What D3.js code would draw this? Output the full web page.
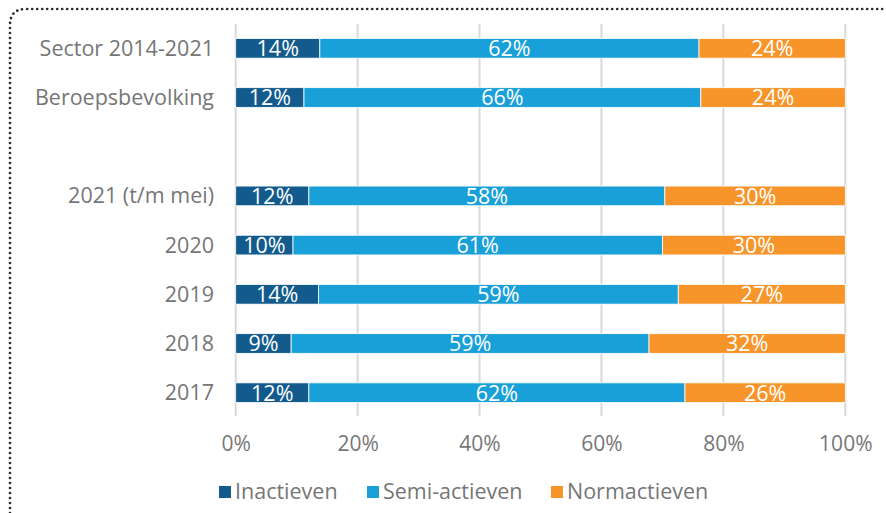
<!DOCTYPE html>
<html>
<head>
<meta charset="utf-8">
<script src="https://cdn.jsdelivr.net/npm/d3@7"></script>
<style>
  html, body { margin: 0; padding: 0; background: #fff; }
  svg { display: block; }
  text { font-family: "Open Sans", "Noto Sans", sans-serif; }
</style>
</head>
<body>
<svg id="chart" width="886" height="513"></svg>
<script>
// ---- data ----
const categories = ["Sector 2014-2021", "Beroepsbevolking", "", "2021 (t/m mei)", "2020", "2019", "2018", "2017"];
const seriesNames = ["Inactieven", "Semi-actieven", "Normactieven"];
const inactieven   = [13.8, 11.2, null, 12.0,  9.4, 13.6,  9.1, 12.0];
const semiActieven = [62.2, 65.1, null, 58.4, 60.6, 59.0, 58.7, 61.7];
const normactieven = [24.0, 23.7, null, 29.6, 30.0, 27.4, 32.2, 26.3];
const inactievenLabels   = ["14%", "12%", null, "12%", "10%", "14%", "9%", "12%"];
const semiActievenLabels = ["62%", "66%", null, "58%", "61%", "59%", "59%", "62%"];
const normactievenLabels = ["24%", "24%", null, "30%", "30%", "27%", "32%", "26%"];
const tickValues = [0, 20, 40, 60, 80, 100];
const colors = ["#135b8d", "#1aa0d9", "#f7952a"];

// ---- build table ----
const keys = categories.map((c, i) => c === "" ? "__gap" + i : c);
const rows = keys.map((k, i) => ({
  key: k, label: categories[i],
  values: [inactieven[i], semiActieven[i], normactieven[i]],
  labels: [inactievenLabels[i], semiActievenLabels[i], normactievenLabels[i]]
}));

const svg = d3.select("#chart");
const W = 886, H = 513;
const FS = 21.5;

// dotted frame
const frame = d3.path();
frame.moveTo(10, H + 5);
frame.lineTo(10, 25);
frame.quadraticCurveTo(10, 9, 26, 9);
frame.lineTo(W + 5, 9);
svg.append("path")
  .attr("d", frame.toString())
  .attr("fill", "none")
  .attr("stroke", "#2a2a2a")
  .attr("stroke-width", 2.7)
  .attr("stroke-linecap", "round")
  .attr("stroke-dasharray", "0 5");

const x = d3.scaleLinear().domain([0, 100]).range([235.7, 845.3]);
const y = d3.scaleBand().domain(keys).range([23.7, 417.3]).paddingInner(0.6).paddingOuter(0.3);

// gridlines
svg.append("g").selectAll("line").data(tickValues).join("line")
  .attr("x1", d => x(d)).attr("x2", d => x(d))
  .attr("y1", 24).attr("y2", 416)
  .attr("stroke", "#d9d9d9").attr("stroke-width", 2);

// x axis tick labels
const xAxis = d3.axisBottom(x).tickValues(tickValues).tickFormat(d => d + "%").tickSize(0).tickPadding(0);
const gx = svg.append("g").attr("transform", "translate(0,436)").call(xAxis);
gx.select(".domain").remove();
gx.selectAll("text")
  .attr("fill", "#767676")
  .attr("font-size", 21)
  .attr("dy", "0.71em")
  .style("font-family", "'Open Sans', sans-serif");

// y axis category labels
const yAxis = d3.axisLeft(y).tickFormat(k => rows.find(r => r.key === k).label).tickSize(0).tickPadding(0);
const gy = svg.append("g").attr("transform", "translate(214,0)").call(yAxis);
gy.select(".domain").remove();
gy.selectAll("text")
  .attr("fill", "#767676")
  .attr("font-size", FS)
  .attr("dy", "0.35em")
  .style("font-family", "'Open Sans', sans-serif");

// stacked bars
const stackData = rows.filter(r => r.values[0] !== null);
stackData.forEach(r => {
  let acc = 0;
  r.segs = r.values.map((v, j) => {
    const s = { x0: acc, x1: acc + v, j, label: r.labels[j], key: r.key };
    acc += v;
    return s;
  });
});

const barG = svg.append("g");
const rowG = barG.selectAll("g").data(stackData).join("g");
rowG.selectAll("rect").data(r => r.segs).join("rect")
  .attr("x", d => x(d.x0))
  .attr("width", d => x(d.x1) - x(d.x0))
  .attr("y", d => y(d.key))
  .attr("height", y.bandwidth())
  .attr("fill", d => colors[d.j])
  .attr("stroke", "#fff")
  .attr("stroke-width", 0.8);

rowG.selectAll("text").data(r => r.segs).join("text")
  .attr("x", d => (x(d.x0) + x(d.x1)) / 2)
  .attr("y", d => y(d.key) + y.bandwidth() / 2)
  .attr("dy", "0.37em")
  .attr("text-anchor", "middle")
  .attr("fill", "#fff")
  .attr("font-size", FS)
  .text(d => d.label);

// legend
const legendX = [219, 367, 551];
const lg = svg.append("g").selectAll("g").data(seriesNames).join("g")
  .attr("transform", (d, i) => `translate(${legendX[i]},486)`);
lg.append("rect").attr("width", 12).attr("height", 12).attr("fill", (d, i) => colors[i]);
lg.append("text")
  .attr("x", 16).attr("y", 5).attr("dy", "0.35em")
  .attr("fill", "#767676").attr("font-size", FS)
  .text(d => d);
</script>
</body>
</html>
